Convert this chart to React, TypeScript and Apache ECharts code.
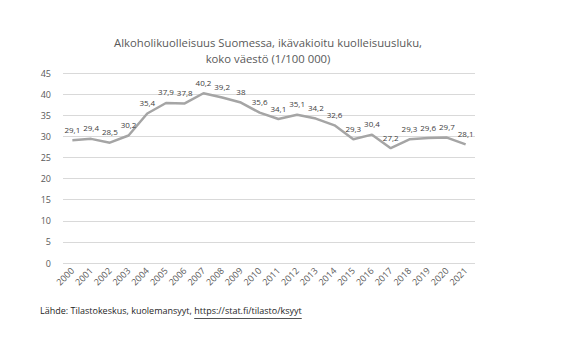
import React, { useEffect, useRef } from "react";
import * as echarts from "echarts";

const years = ["2000","2001","2002","2003","2004","2005","2006","2007","2008","2009","2010","2011","2012","2013","2014","2015","2016","2017","2018","2019","2020","2021"];
const rates = [29.1,29.4,28.5,30.2,35.4,37.9,37.8,40.2,39.2,38,35.6,34.1,35.1,34.2,32.6,29.3,30.4,27.2,29.3,29.6,29.7,28.1];
const titleLines = ["Alkoholikuolleisuus Suomessa, ikävakioitu kuolleisuusluku,", "koko väestö (1/100 000)"];
const sourcePrefix = "Lähde: Tilastokeskus, kuolemansyyt, ";
const sourceUrl = "https://stat.fi/tilasto/ksyyt";

export default function App() {
  const ref = useRef<HTMLDivElement>(null);
  useEffect(() => {
    const chart = echarts.init(ref.current!, null, { renderer: "svg" });
    const font = "'Open Sans', 'Noto Sans', sans-serif";
    const srcFont = `9px ${font}`;
    const ctx = document.createElement("canvas").getContext("2d")!;
    ctx.font = srcFont;
    const prefixW = ctx.measureText(sourcePrefix).width;
    const urlW = ctx.measureText(sourceUrl).width;
    const srcLeft = 40;
    chart.setOption({
      animation: false,
      backgroundColor: "#ffffff",
      title: {
        text: titleLines.join("\n"),
        left: 263,
        top: 30,
        textAlign: "center",
        textStyle: { fontFamily: font, fontSize: 11.3, fontWeight: "normal", color: "#595959", lineHeight: 15.5 },
      },
      grid: { left: 63, right: 101, top: 73, bottom: 89 },
      xAxis: {
        type: "category",
        data: years,
        boundaryGap: true,
        axisLine: { show: false },
        axisTick: { show: false },
        axisLabel: { rotate: 45, fontFamily: font, fontSize: 9, color: "#595959", margin: 6 },
      },
      yAxis: {
        type: "value",
        min: 0,
        max: 45,
        interval: 5,
        axisLine: { show: false },
        axisTick: { show: false },
        axisLabel: { fontFamily: font, fontSize: 9, color: "#595959", margin: 12 },
        splitLine: { lineStyle: { color: "#d9d9d9", width: 1 } },
      },
      series: [
        {
          type: "line",
          data: rates,
          symbol: "circle",
          symbolSize: 0,
          showSymbol: true,
          itemStyle: { color: "#a5a5a5" },
          lineStyle: { color: "#a5a5a5", width: 2.5 },
          label: {
            show: true,
            position: "top",
            distance: 7,
            fontFamily: font,
            fontSize: 8,
            color: "#404040",
            formatter: (p: any) => String(p.value).replace(".", ","),
          },
        },
      ],
      graphic: [
        {
          type: "text",
          left: srcLeft,
          top: 306,
          style: { text: sourcePrefix, font: srcFont, fill: "#262626" },
        },
        {
          type: "text",
          left: srcLeft + prefixW,
          top: 306,
          style: { text: sourceUrl, font: srcFont, fill: "#262626" },
        },
        {
          type: "line",
          shape: { x1: srcLeft + prefixW, y1: 318.5, x2: srcLeft + prefixW + urlW, y2: 318.5 },
          style: { stroke: "#262626", lineWidth: 0.8 },
        },
      ],
    });
    return () => chart.dispose();
  }, []);
  return <div ref={ref} style={{ width: 576, height: 352, position: "absolute", left: 0, top: 0 }} />;
}
